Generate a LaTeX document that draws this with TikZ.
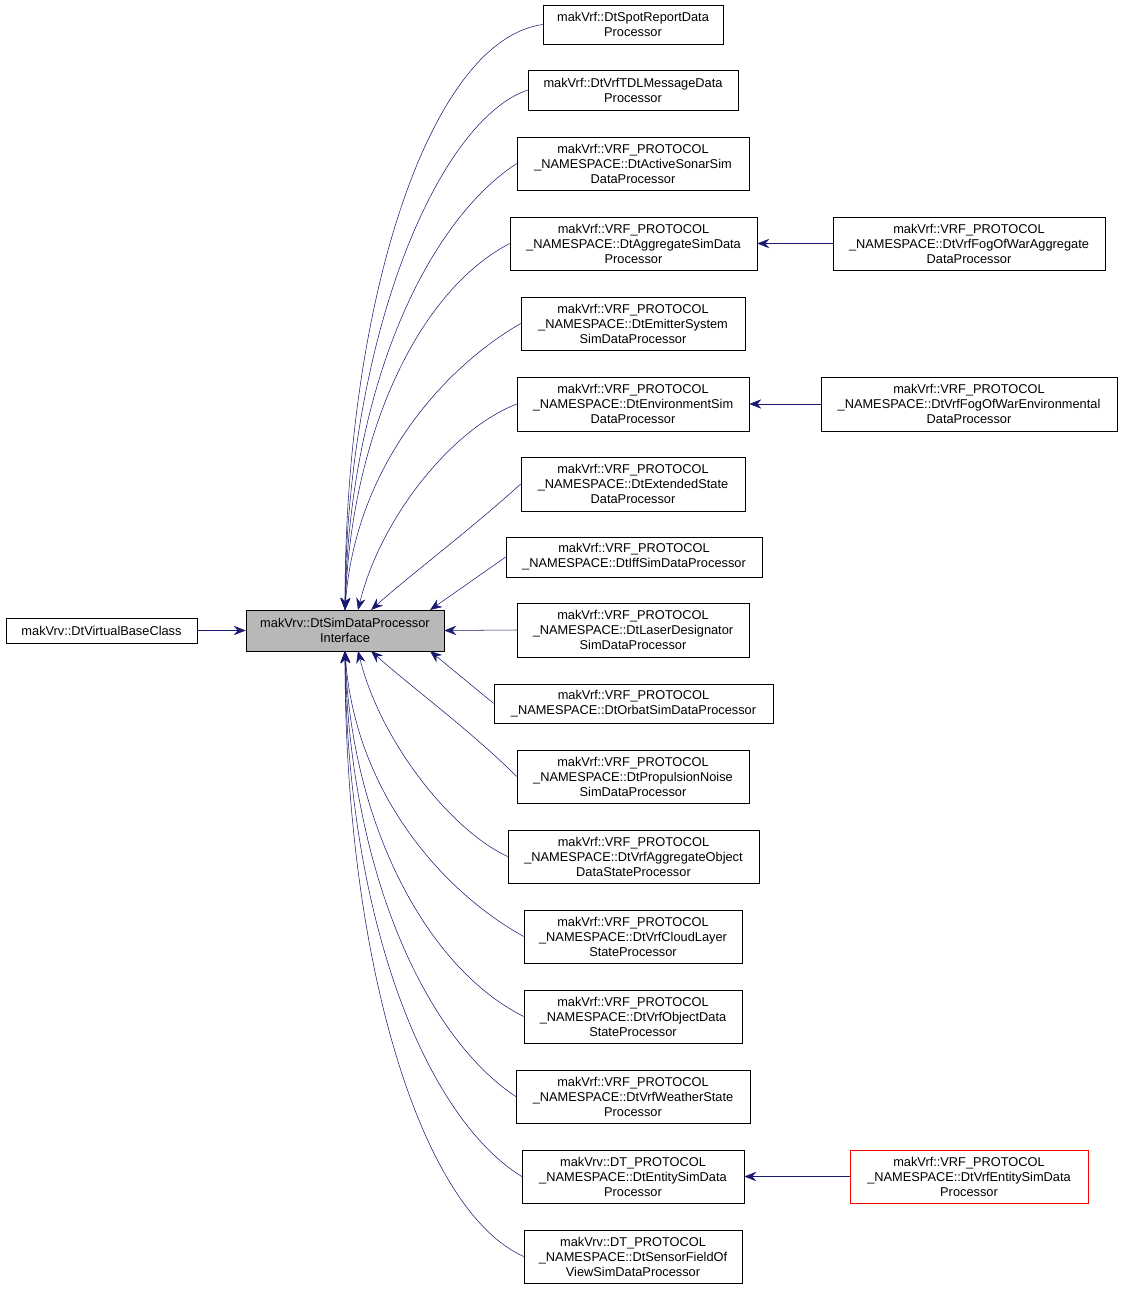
\documentclass[tikz,border=0pt]{standalone}
\usepackage{fontspec}
\setmainfont{Liberation Sans}
\usetikzlibrary{arrows.meta}
\tikzstyle{cls}=[
        draw=black,
        align=center,
        inner sep=0pt,
        font=\fontsize{9.6}{11.25}\selectfont
]
\tikzstyle{inherit}=[
        draw={rgb,255:red,25;green,25;blue,112},
        {Stealth[length=9pt,width=7pt]}-
]
\begin{document}
\begin{tikzpicture}[x=0.75pt,y=-0.75pt]
                        \useasboundingbox (0,0) rectangle (1123,1291);

                        \node[cls,minimum width=191*0.75pt,minimum height=25*0.75pt] (base) at (101.5,630.5) {makVrv::DtVirtualBaseClass};
                        \node[cls,fill=black!28,minimum width=198*0.75pt,minimum height=41*0.75pt] (main) at (345,630.5) {makVrv::DtSimDataProcessor\\Interface};

                        \node[cls,minimum width=180*0.75pt,minimum height=39*0.75pt] (spot) at (633,24.5) {makVrf::DtSpotReportData\\Processor};
                        \node[cls,minimum width=210*0.75pt,minimum height=40*0.75pt] (tdl) at (633,90) {makVrf::DtVrfTDLMessageData\\Processor};
                        \node[cls,minimum width=232*0.75pt,minimum height=53*0.75pt] (sonar) at (633,163.5) {makVrf::VRF\_PROTOCOL\\\_NAMESPACE::DtActiveSonarSim\\DataProcessor};
                        \node[cls,minimum width=247*0.75pt,minimum height=53*0.75pt] (aggr) at (633.5,243.5) {makVrf::VRF\_PROTOCOL\\\_NAMESPACE::DtAggregateSimData\\Processor};
                        \node[cls,minimum width=224*0.75pt,minimum height=53*0.75pt] (emit) at (633,323.5) {makVrf::VRF\_PROTOCOL\\\_NAMESPACE::DtEmitterSystem\\SimDataProcessor};
                        \node[cls,minimum width=232*0.75pt,minimum height=54*0.75pt] (env) at (633,404) {makVrf::VRF\_PROTOCOL\\\_NAMESPACE::DtEnvironmentSim\\DataProcessor};
                        \node[cls,minimum width=224*0.75pt,minimum height=54*0.75pt] (ext) at (633,484) {makVrf::VRF\_PROTOCOL\\\_NAMESPACE::DtExtendedState\\DataProcessor};
                        \node[cls,minimum width=256*0.75pt,minimum height=40*0.75pt] (iff) at (634,557) {makVrf::VRF\_PROTOCOL\\\_NAMESPACE::DtIffSimDataProcessor};
                        \node[cls,minimum width=232*0.75pt,minimum height=54*0.75pt] (laser) at (633,630) {makVrf::VRF\_PROTOCOL\\\_NAMESPACE::DtLaserDesignator\\SimDataProcessor};
                        \node[cls,minimum width=279*0.75pt,minimum height=39*0.75pt] (orbat) at (633.5,703.5) {makVrf::VRF\_PROTOCOL\\\_NAMESPACE::DtOrbatSimDataProcessor};
                        \node[cls,minimum width=232*0.75pt,minimum height=53*0.75pt] (prop) at (633,776.5) {makVrf::VRF\_PROTOCOL\\\_NAMESPACE::DtPropulsionNoise\\SimDataProcessor};
                        \node[cls,minimum width=251*0.75pt,minimum height=53*0.75pt] (aobj) at (633.5,856.5) {makVrf::VRF\_PROTOCOL\\\_NAMESPACE::DtVrfAggregateObject\\DataStateProcessor};
                        \node[cls,minimum width=218*0.75pt,minimum height=53*0.75pt] (cloud) at (633,936.5) {makVrf::VRF\_PROTOCOL\\\_NAMESPACE::DtVrfCloudLayer\\StateProcessor};
                        \node[cls,minimum width=218*0.75pt,minimum height=53*0.75pt] (obj) at (633,1016.5) {makVrf::VRF\_PROTOCOL\\\_NAMESPACE::DtVrfObjectData\\StateProcessor};
                        \node[cls,minimum width=234*0.75pt,minimum height=53*0.75pt] (weather) at (633,1096.5) {makVrf::VRF\_PROTOCOL\\\_NAMESPACE::DtVrfWeatherState\\Processor};
                        \node[cls,minimum width=222*0.75pt,minimum height=53*0.75pt] (entity) at (633,1176.5) {makVrv::DT\_PROTOCOL\\\_NAMESPACE::DtEntitySimData\\Processor};
                        \node[cls,minimum width=218*0.75pt,minimum height=53*0.75pt] (sensor) at (633,1256.5) {makVrv::DT\_PROTOCOL\\\_NAMESPACE::DtSensorFieldOf\\ViewSimDataProcessor};

                        \node[cls,minimum width=272*0.75pt,minimum height=53*0.75pt] (fogaggr) at (969,243.5) {makVrf::VRF\_PROTOCOL\\\_NAMESPACE::DtVrfFogOfWarAggregate\\DataProcessor};
                        \node[cls,minimum width=296*0.75pt,minimum height=54*0.75pt] (fogenv) at (969,404) {makVrf::VRF\_PROTOCOL\\\_NAMESPACE::DtVrfFogOfWarEnvironmental\\DataProcessor};
                        \node[cls,draw=red,minimum width=238*0.75pt,minimum height=53*0.75pt] (vrfent) at (969,1176.5) {makVrf::VRF\_PROTOCOL\\\_NAMESPACE::DtVrfEntitySimData\\Processor};

                        % anchor points on the interface box
                        \coordinate (t0) at (345,610);
                        \coordinate (t1) at (358,610);
                        \coordinate (t2) at (371,610);
                        \coordinate (t3) at (430,610);
                        \coordinate (b0) at (345,651);
                        \coordinate (b1) at (358,651);
                        \coordinate (b2) at (371,651);
                        \coordinate (b3) at (430,651);

                        \draw[inherit] (main.west) -- (base.east);

                        \draw[inherit] (t0) .. controls (345,300) and (430,40) .. (spot.west);
                        \draw[inherit] (t0) .. controls (347,330) and (440,120) .. (tdl.west);
                        \draw[inherit] (t0) .. controls (350,380) and (430,220) .. (sonar.west);
                        \draw[inherit] (t0) .. controls (352,430) and (420,290) .. (aggr.west);
                        \draw[inherit] (t0) .. controls (355,470) and (440,370) .. (emit.west);
                        \draw[inherit] (t1) .. controls (380,520) and (450,430) .. (env.west);
                        \draw[inherit] (t2) .. controls (410,575) and (470,530) .. (ext.west);
                        \draw[inherit] (t3) -- (iff.west);
                        \draw[inherit] (main.east) -- (laser.west);
                        \draw[inherit] (b3) -- (orbat.west);
                        \draw[inherit] (b2) .. controls (410,686) and (470,730) .. (prop.west);
                        \draw[inherit] (b1) .. controls (380,740) and (450,830) .. (aobj.west);
                        \draw[inherit] (b0) .. controls (355,790) and (440,890) .. (cloud.west);
                        \draw[inherit] (b0) .. controls (352,830) and (430,970) .. (obj.west);
                        \draw[inherit] (b0) .. controls (350,880) and (430,1040) .. (weather.west);
                        \draw[inherit] (b0) .. controls (347,930) and (430,1120) .. (entity.west);
                        \draw[inherit] (b0) .. controls (345,960) and (420,1210) .. (sensor.west);

                        \draw[inherit] (aggr.east) -- (fogaggr.west);
                        \draw[inherit] (env.east) -- (fogenv.west);
                        \draw[inherit] (entity.east) -- (vrfent.west);
                    \end{tikzpicture}
\end{document}
